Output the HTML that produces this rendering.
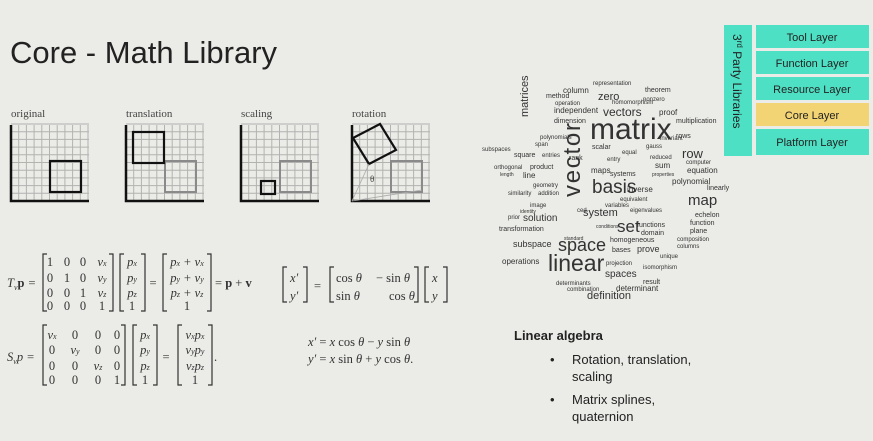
<!DOCTYPE html>
<html><head><meta charset="utf-8"><style>
body{margin:0;background:#ebebe7;}
svg{display:block}
.s{font-family:"Liberation Sans",sans-serif;}
.m{font-family:"Liberation Serif",serif;font-size:12.5px;fill:#333;}
.i{font-style:italic}
.w{font-family:"Liberation Sans",sans-serif;fill:#333;}
</style></head><body>
<svg id="slide" width="873" height="441" viewBox="0 0 873 441">
<rect width="873" height="441" fill="#ebebe7"/>
<text class="s" x="10" y="63" font-size="31" fill="#222">Core - Math Library</text>

<g id="panels" font-family="Liberation Serif, serif" font-size="11" fill="#444"></g>

<g>
<text class="m i" x="7" y="287">T<tspan font-size="8" dy="3">v</tspan><tspan dy="-3" font-weight="bold" font-style="normal">p</tspan> =</text>
<path d="M47,254 h-4 v57 h4 M109,254 h4 v57 h-4 M124,254 h-4 v57 h4 M141,254 h4 v57 h-4 M167,254 h-4 v57 h4 M207,254 h4 v57 h-4" stroke="#333" fill="none" stroke-width="1.2"/>
<g class="m" text-anchor="middle">
<text x="50" y="266">1</text><text x="67" y="266">0</text><text x="83" y="266">0</text><text class="i" x="102" y="266">v<tspan font-size="8">x</tspan></text>
<text x="50" y="282">0</text><text x="67" y="282">1</text><text x="83" y="282">0</text><text class="i" x="102" y="282">v<tspan font-size="8">y</tspan></text>
<text x="50" y="297">0</text><text x="67" y="297">0</text><text x="83" y="297">1</text><text class="i" x="102" y="297">v<tspan font-size="8">z</tspan></text>
<text x="50" y="310">0</text><text x="67" y="310">0</text><text x="83" y="310">0</text><text x="102" y="310">1</text>
<text class="i" x="132" y="266">p<tspan font-size="8">x</tspan></text><text class="i" x="132" y="282">p<tspan font-size="8">y</tspan></text><text class="i" x="132" y="297">p<tspan font-size="8">z</tspan></text><text x="132" y="310">1</text>
<text x="153" y="287">=</text>
<text class="i" x="187" y="266">p<tspan font-size="8">x</tspan> + v<tspan font-size="8">x</tspan></text>
<text class="i" x="187" y="282">p<tspan font-size="8">y</tspan> + v<tspan font-size="8">y</tspan></text>
<text class="i" x="187" y="297">p<tspan font-size="8">z</tspan> + v<tspan font-size="8">z</tspan></text>
<text x="187" y="310">1</text>
</g>
<text class="m" x="215" y="287">= <tspan font-weight="bold">p</tspan> + <tspan font-weight="bold">v</tspan></text>
</g>

<g>
<path d="M287,267 h-4 v35 h4 M303,267 h4 v35 h-4 M334,267 h-4 v35 h4 M414,267 h4 v35 h-4 M429,267 h-4 v35 h4 M443,267 h4 v35 h-4" stroke="#333" fill="none" stroke-width="1.2"/>
<g class="m">
<text class="i" x="290" y="282">x′</text><text class="i" x="290" y="300">y′</text>
<text x="314" y="290">=</text>
<text x="336" y="282">cos <tspan class="i">θ</tspan></text><text x="376" y="282">− sin <tspan class="i">θ</tspan></text>
<text x="336" y="300">sin <tspan class="i">θ</tspan></text><text x="389" y="300">cos <tspan class="i">θ</tspan></text>
<text class="i" x="432" y="282">x</text><text class="i" x="432" y="300">y</text>
</g></g>

<g>
<text class="m i" x="7" y="361">S<tspan font-size="8" dy="3">v</tspan><tspan dy="-3">p</tspan> =</text>
<path d="M47,325 h-4 v60 h4 M121,325 h4 v60 h-4 M137,325 h-4 v60 h4 M153,325 h4 v60 h-4 M182,325 h-4 v60 h4 M208,325 h4 v60 h-4" stroke="#333" fill="none" stroke-width="1.2"/>
<g class="m" text-anchor="middle">
<text class="i" x="52" y="339">v<tspan font-size="8">x</tspan></text><text x="75" y="339">0</text><text x="98" y="339">0</text><text x="117" y="339">0</text>
<text x="52" y="354">0</text><text class="i" x="75" y="354">v<tspan font-size="8">y</tspan></text><text x="98" y="354">0</text><text x="117" y="354">0</text>
<text x="52" y="370">0</text><text x="75" y="370">0</text><text class="i" x="98" y="370">v<tspan font-size="8">z</tspan></text><text x="117" y="370">0</text>
<text x="52" y="384">0</text><text x="75" y="384">0</text><text x="98" y="384">0</text><text x="117" y="384">1</text>
<text class="i" x="145" y="339">p<tspan font-size="8">x</tspan></text><text class="i" x="145" y="354">p<tspan font-size="8">y</tspan></text><text class="i" x="145" y="370">p<tspan font-size="8">z</tspan></text><text x="145" y="384">1</text>
<text x="166" y="361">=</text>
<text class="i" x="195" y="339">v<tspan font-size="8">x</tspan>p<tspan font-size="8">x</tspan></text>
<text class="i" x="195" y="354">v<tspan font-size="8">y</tspan>p<tspan font-size="8">y</tspan></text>
<text class="i" x="195" y="370">v<tspan font-size="8">z</tspan>p<tspan font-size="8">z</tspan></text>
<text x="195" y="384">1</text>
</g>
<text class="m" x="214" y="361">.</text>
</g>

<g class="m">
<text x="308" y="346"><tspan class="i">x′</tspan> = <tspan class="i">x</tspan> cos <tspan class="i">θ</tspan> − <tspan class="i">y</tspan> sin <tspan class="i">θ</tspan></text>
<text x="308" y="363"><tspan class="i">y′</tspan> = <tspan class="i">x</tspan> sin <tspan class="i">θ</tspan> + <tspan class="i">y</tspan> cos <tspan class="i">θ</tspan>.</text>
</g>

<g class="w">
<text x="590" y="139" font-size="30">matrix</text>
<text x="580" y="197" font-size="24" transform="rotate(-90 580 197)" textLength="74">vector</text>
<text x="592" y="193" font-size="19">basis</text>
<text x="548" y="271" font-size="23">linear</text>
<text x="558" y="251" font-size="18">space</text>
<text x="617" y="232" font-size="17">set</text>
<text x="688" y="205" font-size="15">map</text>
<text x="682" y="158" font-size="13">row</text>
<text x="603" y="116" font-size="12">vectors</text>
<text x="598" y="100" font-size="11">zero</text>
<text x="528" y="117" font-size="11" transform="rotate(-90 528 117)">matrices</text>
<text x="583" y="216" font-size="11">system</text>
<text x="587" y="299" font-size="11">definition</text>
<text x="605" y="277" font-size="10">spaces</text>
<text x="563" y="93" font-size="8">column</text><text x="593" y="85" font-size="6">representation</text>
<text x="645" y="92" font-size="7">theorem</text><text x="546" y="98" font-size="7">method</text>
<text x="554" y="113" font-size="8">independent</text><text x="659" y="115" font-size="8">proof</text>
<text x="554" y="123" font-size="7">dimension</text><text x="676" y="123" font-size="7">multiplication</text>
<text x="676" y="138" font-size="7">rows</text><text x="482" y="151" font-size="6">subspaces</text>
<text x="514" y="157" font-size="7">square</text><text x="542" y="157" font-size="6">entries</text>
<text x="592" y="149" font-size="7">scalar</text><text x="622" y="154" font-size="6">equal</text>
<text x="494" y="169" font-size="6">orthogonal</text><text x="530" y="169" font-size="7">product</text>
<text x="655" y="168" font-size="8">sum</text><text x="687" y="173" font-size="8">equation</text>
<text x="523" y="178" font-size="8">line</text><text x="610" y="176" font-size="7">systems</text>
<text x="591" y="173" font-size="8">maps</text><text x="672" y="184" font-size="8">polynomial</text>
<text x="707" y="190" font-size="7">linearly</text><text x="627" y="192" font-size="8">inverse</text>
<text x="508" y="195" font-size="6">similarity</text><text x="538" y="195" font-size="6">addition</text>
<text x="508" y="219" font-size="6">prior</text><text x="523" y="221" font-size="10">solution</text>
<text x="695" y="217" font-size="7">echelon</text><text x="690" y="225" font-size="7">function</text>
<text x="499" y="231" font-size="7">transformation</text><text x="637" y="227" font-size="7">functions</text>
<text x="641" y="235" font-size="7">domain</text><text x="690" y="233" font-size="7">plane</text>
<text x="513" y="247" font-size="9">subspace</text><text x="610" y="242" font-size="7">homogeneous</text>
<text x="612" y="252" font-size="7">bases</text><text x="637" y="252" font-size="9">prove</text>
<text x="502" y="264" font-size="8">operations</text><text x="606" y="265" font-size="6">projection</text>
<text x="643" y="269" font-size="6">isomorphism</text><text x="643" y="284" font-size="7">result</text>
<text x="556" y="285" font-size="6">determinants</text><text x="567" y="291" font-size="6">combination</text>
<text x="616" y="291" font-size="8">determinant</text><text x="607" y="161" font-size="6">entry</text>
<text x="569" y="160" font-size="7">rank</text><text x="646" y="148" font-size="6">gauss</text>
<text x="652" y="176" font-size="5">properties</text><text x="686" y="164" font-size="6">computer</text>
<text x="577" y="212" font-size="6">ced</text><text x="630" y="212" font-size="6">eigenvalues</text>
<text x="564" y="240" font-size="5">standard</text><text x="596" y="228" font-size="5">conditions</text>
<text x="540" y="139" font-size="6">polynomials</text><text x="535" y="146" font-size="6">span</text>
<text x="555" y="105" font-size="6">operation</text><text x="612" y="104" font-size="6">homomorphism</text>
<text x="643" y="101" font-size="6">nonzero</text><text x="533" y="187" font-size="6">geometry</text>
<text x="530" y="207" font-size="6">image</text><text x="520" y="213" font-size="5">identity</text>
<text x="660" y="258" font-size="6">unique</text><text x="677" y="241" font-size="6">composition</text>
<text x="677" y="248" font-size="6">columns</text><text x="660" y="140" font-size="6">invariant</text>
<text x="650" y="159" font-size="6">reduced</text><text x="605" y="207" font-size="6">variables</text>
<text x="620" y="201" font-size="6">equivalent</text><text x="500" y="176" font-size="5">length</text>
</g>

<g class="s" font-size="13" fill="#222">
<text x="514" y="340" font-weight="bold">Linear algebra</text>
<text x="550" y="364">•</text><text x="572" y="364">Rotation, translation,</text>
<text x="572" y="381">scaling</text>
<text x="550" y="404">•</text><text x="572" y="404">Matrix splines,</text>
<text x="572" y="421">quaternion</text>
</g>

<g class="s" font-size="11" fill="#222">
<rect x="724" y="25" width="28" height="131" fill="#4ee0c4"/>
<text x="733" y="34" font-size="12" transform="rotate(90 733 34)">3<tspan font-size="8" dy="-4">rd</tspan><tspan dy="4"> Party Libraries</tspan></text>
<rect x="756" y="25" width="113" height="23" fill="#4ee0c4"/>
<text x="812" y="41" text-anchor="middle">Tool Layer</text>
<rect x="756" y="51" width="113" height="23" fill="#4ee0c4"/>
<text x="812" y="67" text-anchor="middle">Function Layer</text>
<rect x="756" y="77" width="113" height="23" fill="#4ee0c4"/>
<text x="812" y="93" text-anchor="middle">Resource Layer</text>
<rect x="756" y="103" width="113" height="23" fill="#f3d474"/>
<text x="812" y="119" text-anchor="middle">Core Layer</text>
<rect x="756" y="129" width="113" height="26" fill="#4ee0c4"/>
<text x="812" y="146" text-anchor="middle">Platform Layer</text>
</g>
</svg>
<script>
var panelLabels=["original","translation","scaling","rotation"];
var panelX=[11,126,241,352];
var NS="http://www.w3.org/2000/svg";
var g=document.getElementById('panels');
function mk(t,a){var e=document.createElementNS(NS,t);for(var k in a)e.setAttribute(k,a[k]);g.appendChild(e);return e;}
panelLabels.forEach(function(lab,i){
 var x0=panelX[i],y0=125,w=78,h=76,c=7.7;
 var t=mk('text',{x:x0,y:117});t.textContent=lab;
 
 
 for(var k=1;k<=10;k++){mk('line',{x1:x0+k*c,y1:y0,x2:x0+k*c,y2:y0+h,stroke:'#b2b2b0','stroke-width':1});
  mk('line',{x1:x0,y1:y0+h-k*c,x2:x0+w,y2:y0+h-k*c,stroke:'#b2b2b0','stroke-width':1});}
 mk('path',{d:'M'+x0+','+y0+' V'+(y0+h)+' H'+(x0+w),stroke:'#111',fill:'none','stroke-width':2.5});
 var gx=x0+39,gy=161,s=31;
 if(i==0){mk('rect',{x:gx,y:gy,width:s,height:s,fill:'none',stroke:'#111','stroke-width':2.2});}
 else{mk('rect',{x:gx,y:gy,width:s,height:s,fill:'none',stroke:'#8a8a8a','stroke-width':2});}
 if(i==1)mk('rect',{x:x0+7,y:132,width:s,height:s,fill:'none',stroke:'#111','stroke-width':2.2});
 if(i==2)mk('rect',{x:x0+20,y:181,width:14,height:13,fill:'none',stroke:'#111','stroke-width':2.2});
 if(i==3){mk('polygon',{points:'353,138 380,124 396,150 369,164',fill:'none',stroke:'#111','stroke-width':2.2});
  mk('path',{d:'M'+x0+','+(y0+h)+' L369,164 M'+x0+','+(y0+h)+' L'+(gx+s)+','+(gy+s-2),stroke:'#aaa',fill:'none','stroke-width':0.8});
  var th=mk('text',{x:370,y:182,'font-size':9});th.textContent='θ';}
});
</script>
</body></html>
